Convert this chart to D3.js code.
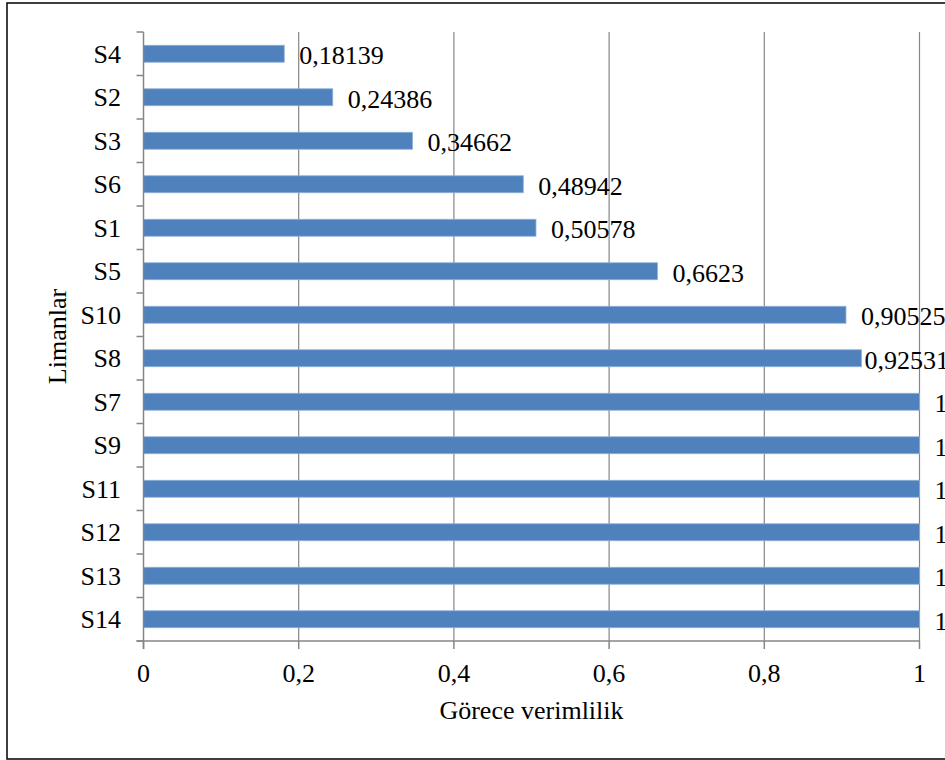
<!DOCTYPE html>
<html><head><meta charset="utf-8">
<script src="https://cdn.jsdelivr.net/npm/d3@7"></script>
<style>body{margin:0;background:#fff;} svg{display:block;}</style>
</head><body>
<svg id="c" width="945" height="760"></svg>
<script>
const categories = ["S4","S2","S3","S6","S1","S5","S10","S8","S7","S9","S11","S12","S13","S14"];
const values = [0.18139,0.24386,0.34662,0.48942,0.50578,0.6623,0.90525,0.92531,1,1,1,1,1,1];
const xTicks = [0,0.2,0.4,0.6,0.8,1];
const xTitle = "Görece verimlilik";
const yTitle = "Limanlar";

const svg = d3.select("#c");
const font = "'Liberation Serif','Times New Roman',serif";
const fs = 26;
const L = 143.5, R = 919.5, T = 32, B = 641;
const axisColor = "#868686";

svg.append("rect").attr("x",7).attr("y",3).attr("width",960).attr("height",756)
  .attr("fill","#fff").attr("stroke","#000").attr("stroke-width",1.5);

const x = d3.scaleLinear().domain([0,1]).range([L,R]);
const y = d3.scaleBand().domain(categories).range([T,B]).paddingInner(0.61).paddingOuter(0.305);
const step = y.step();
const off = (step - y.bandwidth())/2;

// gridlines
svg.append("g").selectAll("line").data(xTicks.filter(d=>d>0)).join("line")
  .attr("x1",d=>x(d)).attr("x2",d=>x(d)).attr("y1",T).attr("y2",B)
  .attr("stroke",axisColor).attr("stroke-width",1.2);

// bars
svg.append("g").selectAll("rect").data(values).join("rect")
  .attr("x",x(0)).attr("y",(d,i)=>y(categories[i]))
  .attr("width",d=>x(d)-x(0)).attr("height",y.bandwidth())
  .attr("fill","#4F81BD").attr("stroke","#8fb0d8").attr("stroke-width",0.8);

// axes lines
svg.append("line").attr("x1",L).attr("x2",L).attr("y1",T).attr("y2",B+8)
  .attr("stroke",axisColor).attr("stroke-width",1.5);
svg.append("line").attr("x1",L-7).attr("x2",R).attr("y1",B).attr("y2",B)
  .attr("stroke",axisColor).attr("stroke-width",1.5);

// y tick marks at band boundaries
const bounds = categories.map(c=>y(c)-off).concat([B]);
svg.append("g").selectAll("line").data(bounds).join("line")
  .attr("x1",L-7).attr("x2",L).attr("y1",d=>d).attr("y2",d=>d)
  .attr("stroke",axisColor).attr("stroke-width",1.5);
// x tick marks
svg.append("g").selectAll("line").data(xTicks).join("line")
  .attr("x1",d=>x(d)).attr("x2",d=>x(d)).attr("y1",B).attr("y2",B+8)
  .attr("stroke",axisColor).attr("stroke-width",1.5);

// y labels
svg.append("g").selectAll("text").data(categories).join("text")
  .attr("x",121).attr("y",c=>y(c)+y.bandwidth()/2).attr("dy","0.35em")
  .attr("text-anchor","end").attr("font-family",font).attr("font-size",fs)
  .attr("fill","#000").text(c=>c);

// x labels
const fmt = d => String(d).replace(".",",");
svg.append("g").selectAll("text").data(xTicks).join("text")
  .attr("x",d=>x(d)).attr("y",682).attr("text-anchor","middle")
  .attr("font-family",font).attr("font-size",fs).attr("fill","#000").text(fmt);

// data labels
svg.append("g").selectAll("text").data(values).join("text")
  .attr("y",(d,i)=>y(categories[i])+y.bandwidth()/2).attr("dy","0.4em")
  .attr("font-family",font).attr("font-size",fs).attr("fill","#000")
  .text(fmt)
  .each(function(d){
    const w = this.getComputedTextLength();
    const xx = Math.min(x(d)+15, 949 - w);
    d3.select(this).attr("x", xx);
  });

// titles
svg.append("text").attr("x",(L+R)/2).attr("y",719).attr("text-anchor","middle")
  .attr("font-family",font).attr("font-size",fs).attr("fill","#000").text(xTitle);
svg.append("text").attr("transform",`translate(66,${(T+B)/2}) rotate(-90)`)
  .attr("text-anchor","middle").attr("font-family",font).attr("font-size",fs)
  .attr("fill","#000").text(yTitle);
</script>
</body></html>
